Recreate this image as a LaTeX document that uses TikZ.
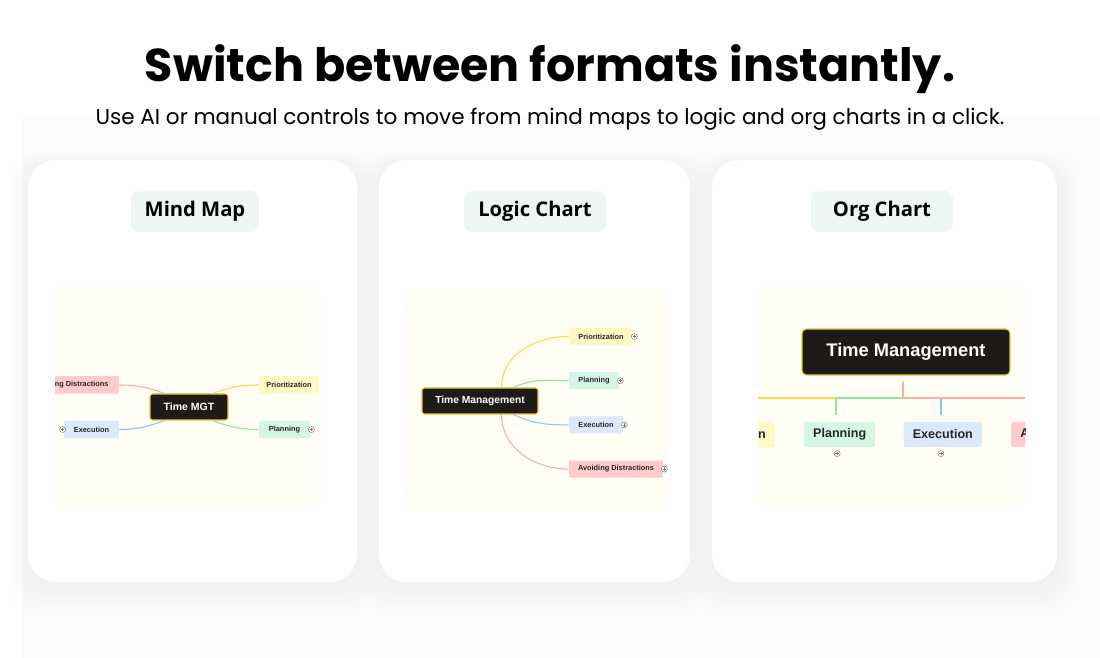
\documentclass[tikz,border=0pt]{standalone}
\usepackage{fontspec}
\setmainfont{Liberation Sans}
\newfontfamily\headfont{Poppins}
\newfontfamily\pillfont{Open Sans}
\usepackage{tikz}
\usetikzlibrary{positioning}

\definecolor{inkdark}{HTML}{1E1A17}
\definecolor{rootrim}{HTML}{E9C43C}
\definecolor{cream}{HTML}{FFFDF4}
\definecolor{pillbg}{HTML}{EEF5F5}
\definecolor{pinkbox}{HTML}{FFCCCB}
\definecolor{pinkline}{HTML}{FFA9A9}
\definecolor{yelbox}{HTML}{FFF7C4}
\definecolor{yelline}{HTML}{FFD84A}
\definecolor{grnbox}{HTML}{D3F7E4}
\definecolor{grnline}{HTML}{8DE6A0}
\definecolor{blubox}{HTML}{DCE8FC}
\definecolor{bluline}{HTML}{80C9F2}
\definecolor{pagegray}{HTML}{FBFBFB}

\begin{document}
\begin{tikzpicture}[
    x=0.02cm, y=-0.02cm,
    card/.style={fill=white, rounded corners=0.55cm},
    panel/.style={fill=cream, rounded corners=0.2cm},
    pill/.style={fill=pillbg, rounded corners=0.16cm, inner sep=0,
                 font=\pillfont\bfseries\fontsize{11.5}{13}\selectfont},
    root/.style={fill=inkdark, draw=rootrim, line width=0.6pt, rounded corners=1.5pt,
                 text=white, inner sep=0},
    leaf/.style={inner sep=0, rounded corners=0.6pt, text=black!85},
    smallleaf/.style={leaf, minimum height=0.35cm, font=\bfseries\fontsize{4.2}{5}\selectfont},
    bigleaf/.style={leaf, minimum height=0.5cm, rounded corners=1pt,
                    font=\bfseries\fontsize{7.15}{8.5}\selectfont},
    link/.style={line width=0.6pt},
    orglink/.style={line width=1pt},
    expand/.style={circle, draw=black!55, fill=white, minimum size=0.12cm, inner sep=0,
                   line width=0.25pt,
                   path picture={\draw[black!55, line width=0.25pt]
                     ([xshift=-0.035cm]path picture bounding box.center) --
                     ([xshift=0.035cm]path picture bounding box.center)
                     ([yshift=-0.035cm]path picture bounding box.center) --
                     ([yshift=0.035cm]path picture bounding box.center);}},
    node distance=0.57cm
]
\useasboundingbox (0,0) rectangle (1100,658);

% page backdrop and card shadows
\fill[pagegray] (22,118) rectangle (1100,658);
\foreach \xa/\xb in {28/357,379/690,712/1057}{
  \foreach \k in {1,...,10}
    \fill[black, opacity=0.005, rounded corners=0.6cm]
      (\xa-\k*2,168-\k*1.5) rectangle (\xb+\k*2,586+\k*2.5);
}

% heading
\node[font=\headfont\bfseries\fontsize{26.2}{32}\selectfont, anchor=base] (title) at (550,82)
  {Switch between formats instantly.};
\node[font=\headfont\fontsize{12.25}{15}\selectfont, anchor=base] (subtitle) at (550,125)
  {Use AI or manual controls to move from mind maps to logic and org charts in a click.};

% cards
\fill[card] (28,160) rectangle (357,582);
\fill[card] (379,160) rectangle (690,582);
\fill[card] (712,160) rectangle (1057,582);

\node[pill, minimum width=2.56cm, minimum height=0.82cm] (mmpill) at (195,211.5) {Mind Map};
\node[pill, minimum width=2.84cm, minimum height=0.82cm] (lcpill) at (535,211.5) {Logic Chart};
\node[pill, minimum width=2.84cm, minimum height=0.82cm] (ocpill) at (882,211.5) {Org Chart};

\fill[panel] (55,287) rectangle (320,508);
\fill[panel] (405,289) rectangle (668,510);
\fill[panel] (758,287) rectangle (1025,508);

% Mind map
\begin{scope}
\clip[rounded corners=0.2cm] (55,287) rectangle (320,508);
\node[root, minimum width=1.56cm, minimum height=0.52cm,
      font=\bfseries\fontsize{6}{7}\selectfont] (mmroot) at (189,407) {Time MGT};
\node[smallleaf, fill=yelbox, minimum width=1.2cm] (mmprio) at (289,385) {Prioritization};
\node[smallleaf, fill=grnbox, minimum width=1.02cm] (mmplan) at (284.5,429.5) {Planning};
\node[smallleaf, fill=blubox, minimum width=1.1cm] (mmexec) at (91.5,429.5) {Execution};
\node[smallleaf, fill=pinkbox, minimum width=1.94cm] (mmavoid) at (70.5,385) {Avoiding Distractions};
\node[expand, xshift=-0.02cm] (mmexecx) at (mmexec.west) {};
\node[expand, xshift=0.02cm] (mmplanx) at (mmplan.east) {};

\draw[link, pinkline] ([xshift=0.3cm]mmroot.north west) to[out=160, in=0] (mmavoid.east);
\draw[link, yelline] ([xshift=-0.32cm]mmroot.north east) to[out=20, in=180] (mmprio.west);
\draw[link, bluline] ([xshift=0.3cm]mmroot.south west) to[out=200, in=0] (mmexec.east);
\draw[link, grnline] ([xshift=-0.32cm]mmroot.south east) to[out=-20, in=180] (mmplan.west);
\end{scope}

% Logic chart
\node[root, minimum width=2.32cm, minimum height=0.52cm,
      font=\bfseries\fontsize{5.85}{7}\selectfont] (lcroot) at (480,401) {Time Management};
\node[smallleaf, fill=yelbox, minimum width=1.28cm, minimum height=0.34cm] (lcprio) at (601,336.5) {Prioritization};
\node[smallleaf, fill=grnbox, minimum width=1.0cm, minimum height=0.34cm,
      below=0.53cm of lcprio.south west, anchor=north west] (lcplan) {Planning};
\node[smallleaf, fill=blubox, minimum width=1.08cm, minimum height=0.34cm,
      below=0.53cm of lcplan.south west, anchor=north west] (lcexec) {Execution};
\node[smallleaf, fill=pinkbox, minimum width=1.88cm, minimum height=0.34cm,
      below=0.53cm of lcexec.south west, anchor=north west] (lcavoid) {Avoiding Distractions};
\foreach \n in {lcprio,lcplan,lcexec,lcavoid}
  \node[expand, xshift=0.02cm] (\n x) at (\n.east) {};

\draw[link, yelline] ([xshift=1.6cm]lcroot.north west) to[out=90, in=180] (lcprio.west);
\draw[link, grnline] ([xshift=1.84cm]lcroot.north west) to[out=25, in=180] (lcplan.west);
\draw[link, bluline] ([xshift=1.84cm]lcroot.south west) to[out=-25, in=180] (lcexec.west);
\draw[link, pinkline] ([xshift=1.6cm]lcroot.south west) to[out=-90, in=180] (lcavoid.west);

% Org chart
\begin{scope}
\clip[rounded corners=0.2cm] (758,287) rectangle (1025,508);
\node[root, minimum width=4.16cm, minimum height=0.92cm, rounded corners=2.5pt,
      font=\bfseries\fontsize{10.4}{12}\selectfont] (ocroot) at (906,352) {Time Management};
\node[bigleaf, fill=yelbox, minimum width=1.9cm] (ocprio) at (727.5,434.5) {Prioritization};
\node[bigleaf, fill=grnbox, minimum width=1.42cm, right=of ocprio] (ocplan) {Planning};
\node[bigleaf, fill=blubox, minimum width=1.56cm, right=0.56cm of ocplan] (ocexec) {Execution};
\node[bigleaf, fill=pinkbox, minimum width=2.96cm, right=of ocexec] (ocavoid) {Avoiding Distractions};
\node[expand, below=0.06cm of ocplan, xshift=-0.05cm] (ocplanx) {};
\node[expand, below=0.06cm of ocexec, xshift=-0.04cm] (ocexecx) {};

\coordinate (ochub) at (903,398);
\draw[orglink, yelline] (ochub) -| ([xshift=-0.06cm, yshift=0.14cm]ocprio.north);
\draw[orglink, grnline] (ochub) -| ([xshift=-0.07cm, yshift=0.14cm]ocplan.north);
\draw[orglink, bluline] (ochub) -| ([xshift=-0.04cm, yshift=0.14cm]ocexec.north);
\draw[orglink, pinkline] (ochub) -| ([xshift=-0.06cm, yshift=0.14cm]ocavoid.north);
\draw[orglink, pinkline] ([xshift=-0.06cm, yshift=-0.12cm]ocroot.south) -- (ochub);
\end{scope}

\end{tikzpicture}
\end{document}
